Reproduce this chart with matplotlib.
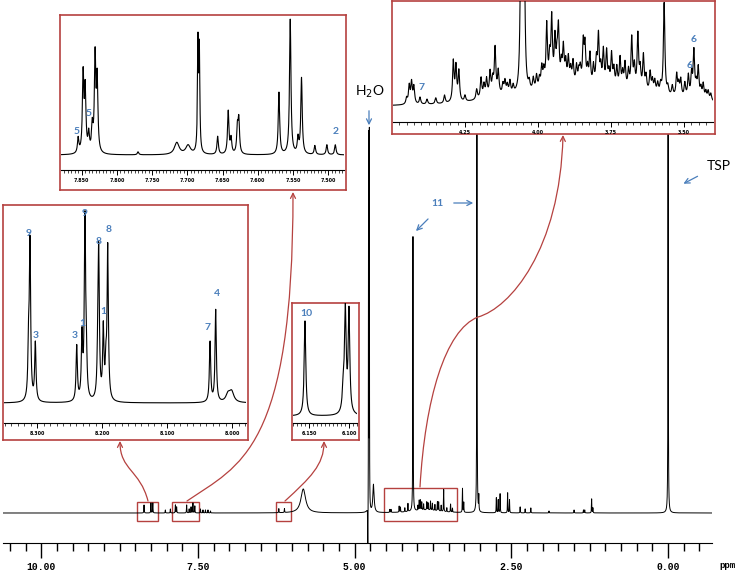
import numpy as np
import matplotlib
matplotlib.use('Agg')
from matplotlib import pyplot as plt
from matplotlib.patches import FancyArrowPatch, Rectangle
from matplotlib.path import Path
from matplotlib.ticker import MultipleLocator, FormatStrFormatter

W, H = 747, 571
RED = '#B5413F'
BLUE = '#4A7EBB'

# full spectrum: ppm, height (px above baseline), half width (ppm)
main_ppm = [8.36, 8.25, 8.22, 8.02, 7.94, 7.86, 7.84, 7.68, 7.64, 7.61, 7.58, 7.55, 7.46, 7.42, 7.38, 7.34, 7.30,
            6.21, 6.12, 5.82,
            4.790, 4.778, 4.766, 4.70,
            4.44, 4.42, 4.29, 4.27, 4.20, 4.15, 4.07, 3.99, 3.97, 3.95, 3.93, 3.90, 3.85, 3.83, 3.79, 3.76,
            3.72, 3.68, 3.66, 3.62, 3.58, 3.53, 3.47, 3.44, 3.85,
            3.28, 3.26, 3.05, 3.02, 2.74, 2.71, 2.68, 2.56, 2.53, 2.36, 2.28, 2.19, 1.90, 1.50, 1.35, 1.33,
            1.22, 1.20, 0.00]
main_height = [8, 10, 10, 3, 4, 8, 6, 8, 4, 6, 10, 7, 4, 3, 3, 3, 2,
               4, 4, 24,
               -70, 375, 375, 28,
               3, 3, 6, 5, 4, 8, 275, 5, 10, 10, 8, 6, 8, 7, 9, 7,
               6, 9, 9, 6, 22, 4, 8, 4, 3,
               24, 10, 430, 15, 15, 13, 19, 20, 13, 6, 4, 5, 2, 3, 3, 3,
               14, 5, 430]
main_width = [0.003] * 17 + [0.003, 0.003, 0.045] + [0.002, 0.002, 0.002, 0.012] + \
             [0.003] * 24 + [0.25] + [0.003] * 19

# boxes drawn on the full spectrum (ppm from, ppm to, top in px)
box_from = [8.47, 7.91, 6.25, 4.53]
box_to = [8.13, 7.48, 6.01, 3.37]
box_top = [11, 11, 11, 25]

# inset 1: 8.35 - 7.98 ppm
l_ppm = [8.3130, 8.3108, 8.3026, 8.2389, 8.2308, 8.2262, 8.2240, 8.2065, 8.2051, 8.1980, 8.1940, 8.1912,
         8.0338, 8.0251, 8.0060, 8.0005]
l_height = [50, 155, 58, 55, 62, 180, 30, 35, 142, 70, 30, 152, 60, 92, 8, 10]
l_width = [0.0012] * 14 + [0.004, 0.004]
l_labels = ['9', '3', '3', '1', '9', '8', '1', '8', '7', '4']
l_label_px = [(29, 233), (36, 335), (75, 335), (82, 324), (85, 214), (99, 242), (103, 312), (109, 229),
              (208, 328), (217, 293)]

# inset 2: 7.88 - 7.48 ppm
tl_ppm = [7.855, 7.848, 7.845, 7.840, 7.835, 7.831, 7.828, 7.770, 7.715, 7.699, 7.6850, 7.6830,
          7.657, 7.642, 7.638, 7.629, 7.627, 7.570, 7.554, 7.543, 7.538, 7.519, 7.502, 7.490]
tl_height = [15, 78, 62, 18, 25, 95, 72, 3, 12, 9, 108, 100,
             18, 43, 15, 25, 33, 62, 135, 15, 76, 9, 10, 10]
tl_width = [0.0012] * 8 + [0.004, 0.004, 0.0008, 0.0008] + [0.0012] * 12
tl_labels = ['5', '5', '2']
tl_label_px = [(77, 132), (89, 113), (336, 132)]

# inset 3: 6.17 - 6.09 ppm
s_ppm = [6.1550, 6.1070, 6.1045, 6.1000]
s_height = [95, 25, 100, 102]
s_labels = ['10']
s_label_px = [(306, 314)]

# inset 4: 4.50 - 3.40 ppm
tr_ppm = [3.92, 3.70, 4.15,
          4.450, 4.441, 4.433, 4.425, 4.404, 4.38, 4.35, 4.32, 4.290, 4.281, 4.271, 4.25, 4.21, 4.195, 4.185,
          4.176, 4.164, 4.155, 4.147, 4.136, 4.12, 4.113, 4.105, 4.096, 4.085, 4.058, 4.048, 4.030, 4.016,
          4.005, 3.995, 3.987, 3.98, 3.970, 3.96, 3.953, 3.942, 3.935, 3.930, 3.920, 3.913, 3.905, 3.896,
          3.888, 3.88, 3.868, 3.860, 3.855, 3.845, 3.839, 3.830, 3.822, 3.81, 3.80, 3.793, 3.785, 3.776,
          3.765, 3.757, 3.748, 3.740, 3.73, 3.719, 3.710, 3.702, 3.69, 3.679, 3.67, 3.658, 3.65, 3.639,
          3.63, 3.616, 3.608, 3.60, 3.59, 3.580, 3.568, 3.555, 3.54, 3.525, 3.518, 3.511, 3.497, 3.485,
          3.474, 3.466, 3.458, 3.451, 3.442, 3.434, 3.425, 3.417, 3.408]
tr_height = [14, 12, 5,
             6, 18, 21, 17, 7, 5, 6, 8, 40, 34, 30, 6, 10, 20, 12,
             17, 23, 14, 46, 23, 10, 13, 9, 13, 8, 200, 200, 8, 12,
             14, 10, 20, 15, 61, 25, 65, 43, 22, 53, 18, 35, 20, 25,
             14, 22, 18, 12, 15, 41, 38, 16, 31, 20, 25, 50, 18, 36,
             35, 14, 33, 18, 20, 30, 15, 25, 18, 51, 22, 55, 20, 35,
             15, 20, 12, 12, 10, 9, 92, 8, 10, 22, 12, 17, 14, 22,
             23, 46, 12, 30, 10, 15, 8, 9, 7]
tr_width = [0.12, 0.22, 0.06] + [0.003] * 94
tr_labels = ['7', '6', '6']
tr_label_px = [(422, 88), (694, 39), (690, 66)]


def lorentz(x, ppm, height, width):
    y = np.zeros_like(x)
    for p, h, w in zip(ppm, height, width):
        y += h / (1 + ((x - p) / w) ** 2)
    return y


fig = plt.figure(figsize=(W / 100, H / 100), dpi=100)


def px_axes(x0, y0, x1, y1, z):
    return fig.add_axes([x0 / W, 1 - y1 / H, (x1 - x0) / W, (y1 - y0) / H], zorder=z)


# ---- full spectrum
ax = px_axes(3, 0, 712, 543, 1)
ax.patch.set_alpha(0)
x = np.linspace(-0.70, 10.61, 40000)
ax.plot(x, lorentz(x, main_ppm, main_height, main_width), color='black', lw=0.7)
ax.set_xlim(10.61, -0.70)
ax.set_ylim(-30, 513)
for s in ['top', 'right', 'left']:
    ax.spines[s].set_visible(False)
ax.set_yticks([])
ax.xaxis.set_major_locator(MultipleLocator(2.5))
ax.xaxis.set_minor_locator(MultipleLocator(0.25))
ax.xaxis.set_major_formatter(FormatStrFormatter('%.2f'))
ax.tick_params(axis='x', which='major', length=11, width=1, pad=2.5, labelsize=7)
ax.tick_params(axis='x', which='minor', length=6, width=1)
for t in ax.get_xticklabels():
    t.set_fontfamily('Liberation Mono')
    t.set_fontweight('bold')
for a, b, t in zip(box_from, box_to, box_top):
    ax.add_patch(Rectangle((a, -8), b - a, t + 8, fill=False, edgecolor=RED, lw=1.0))


def inset(rect, inner, base_py, xlim, ppm, height, width, major, minor, fmt):
    x0, y0, x1, y1 = rect
    frame = px_axes(x0, y0, x1, y1, 3)
    frame.set_xticks([])
    frame.set_yticks([])
    for sp in frame.spines.values():
        sp.set_color(RED)
        sp.set_linewidth(1.2)
    ix0, iy0, ix1, iy1 = inner
    a = px_axes(ix0, iy0, ix1, iy1, 4)
    a.patch.set_alpha(0)
    xs = np.linspace(min(xlim), max(xlim), 5000)
    a.plot(xs, lorentz(xs, ppm, height, width), color='black', lw=0.8)
    a.set_xlim(*xlim)
    a.set_ylim(base_py - iy1, base_py - iy0)
    for s in ['top', 'right', 'left']:
        a.spines[s].set_visible(False)
    a.spines['bottom'].set_linewidth(0.8)
    a.set_yticks([])
    a.xaxis.set_major_locator(MultipleLocator(major))
    a.xaxis.set_minor_locator(MultipleLocator(minor))
    a.xaxis.set_major_formatter(FormatStrFormatter(fmt))
    a.tick_params(axis='x', which='major', length=3.5, width=0.7, pad=2, labelsize=3.5)
    a.tick_params(axis='x', which='minor', length=2, width=0.5)
    for t in a.get_xticklabels():
        t.set_fontweight('bold')
    return a


inset((3, 205, 248, 440), (4, 205, 246, 423), 403, (8.3508, 7.9785),
      l_ppm, l_height, l_width, 0.1, 0.01, '%.3f')
inset((60, 15, 346, 190), (61, 15, 344, 170), 155, (7.8794, 7.4777),
      tl_ppm, tl_height, tl_width, 0.05, 0.005, '%.3f')
inset((292, 303, 359, 440), (293, 303, 357, 423), 416, (6.170, 6.090),
      s_ppm, s_height, [0.0012, 0.0015, 0.0012, 0.0012], 0.05, 0.005, '%.3f')
inset((392, 1, 715, 134), (393, 1, 713, 122), 107, (4.4966, 3.4007),
      tr_ppm, tr_height, tr_width, 0.25, 0.025, '%.2f')

# ---- overlay in pixel coordinates for labels and arrows
ov = fig.add_axes([0, 0, 1, 1], zorder=6)
ov.set_xlim(0, W)
ov.set_ylim(H, 0)
ov.axis('off')
ov.patch.set_alpha(0)

for labels, pos in [(l_labels, l_label_px), (tl_labels, tl_label_px), (s_labels, s_label_px), (tr_labels, tr_label_px)]:
    for lab, (px, py) in zip(labels, pos):
        ov.text(px, py, lab, color=BLUE, fontsize=7.5, fontweight='bold', family='Lato', ha='center', va='center')

ov.text(370, 92, 'H$_2$O', fontsize=10, family='Lato', ha='center', va='center')
ov.text(719, 166, 'TSP', fontsize=10, family='Lato', ha='center', va='center')
ov.text(437, 203, '11', color=BLUE, fontsize=7.5, fontweight='bold', family='Lato', ha='center', va='center')
ov.text(727, 566, 'ppm', fontsize=6.5, fontweight='bold', family='Liberation Mono', ha='center', va='center')

blue_arrows = [((369, 108), (369, 128)), ((700, 175), (681, 185)), ((451, 203), (476, 203)), ((430, 217), (414, 233))]
for a, b in blue_arrows:
    ov.add_patch(FancyArrowPatch(a, b, arrowstyle='->', mutation_scale=9, color=BLUE, lw=0.9))

red_paths = [
    Path([(148, 501), (140, 470), (120, 470), (120, 441)], [Path.MOVETO, Path.CURVE4, Path.CURVE4, Path.CURVE4]),
    Path([(187, 501), (240, 465), (293, 450), (293, 192)], [Path.MOVETO, Path.CURVE4, Path.CURVE4, Path.CURVE4]),
    Path([(285, 501), (310, 478), (324, 465), (324, 441)], [Path.MOVETO, Path.CURVE4, Path.CURVE4, Path.CURVE4]),
    Path([(420, 487), (425, 400), (445, 330), (478, 317), (510, 308), (560, 250), (563, 135)],
         [Path.MOVETO, Path.CURVE4, Path.CURVE4, Path.CURVE4, Path.CURVE4, Path.CURVE4, Path.CURVE4]),
]
for p in red_paths:
    ov.add_patch(FancyArrowPatch(path=p, arrowstyle='->', mutation_scale=9, color=RED, lw=0.9))

fig.savefig('out.png', dpi=100)
